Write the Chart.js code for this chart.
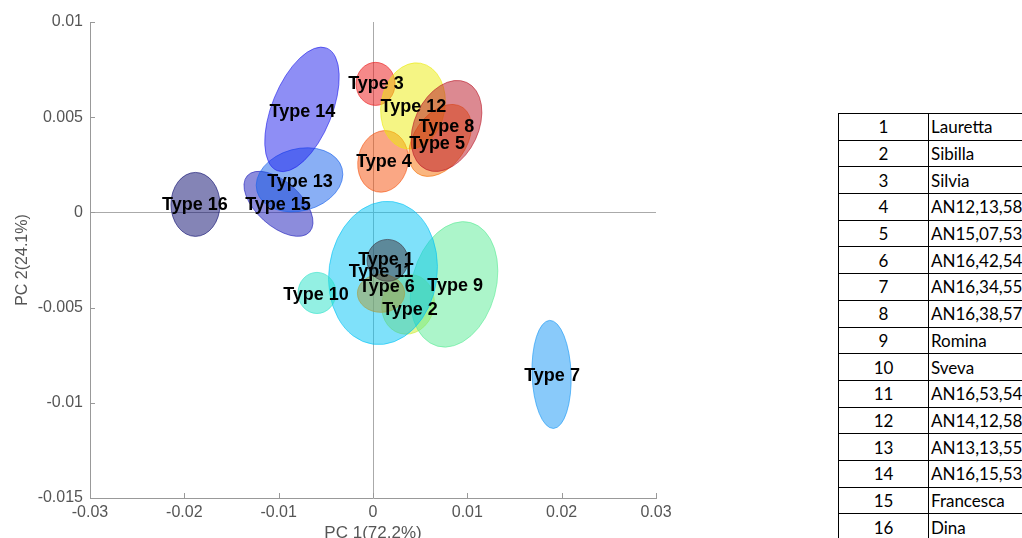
<!DOCTYPE html>
<html>
<head>
<meta charset="utf-8">
<script src="https://cdn.jsdelivr.net/npm/chart.js@4.4.1/dist/chart.umd.min.js"></script>
<style>
    html, body { margin: 0; padding: 0; background: #fff; overflow: hidden; width: 1022px; height: 538px; }
    #wrap { position: absolute; left: 0; top: 0; width: 700px; height: 560px; }
    #tbl { position: absolute; left: 838px; top: 113px; width: 360px; border-collapse: collapse; table-layout: fixed;
           font-family: Lato, 'Open Sans', sans-serif; font-size: 17px; color: #000; }
    #tbl td { border: 1px solid #000; height: 25.7px; padding: 0; line-height: 1; white-space: nowrap; overflow: hidden; }
    #tbl td.n { width: 89px; text-align: center; }
    #tbl td.nm { width: 268px; padding-left: 2px; }
</style>
</head>
<body>
<div id="wrap"><canvas id="pca" width="700" height="560"></canvas></div>
<table id="tbl"><tbody id="tbody"></tbody></table>
<script>
// group names
const types = ['Type 1', 'Type 2', 'Type 3', 'Type 4', 'Type 5', 'Type 6', 'Type 7', 'Type 8',
    'Type 9', 'Type 10', 'Type 11', 'Type 12', 'Type 13', 'Type 14', 'Type 15', 'Type 16'];

// label position (group mean) in PC1 / PC2
const labelX = [0.00138, 0.00392, 0.00032, 0.00117, 0.00679, 0.00148, 0.01898, 0.00779,
    0.00870, -0.00604, 0.00085, 0.00429, -0.00774, -0.00748, -0.01007, -0.01888];
const labelY = [-0.00252, -0.00515, 0.00672, 0.00263, 0.00357, -0.00394, -0.00861, 0.00446,
    -0.00389, -0.00436, -0.00315, 0.00551, 0.00158, 0.00525, 0.00037, 0.00037];

// confidence ellipses: centre, semi axes (PC1 / PC2 units) and tilt in degrees
const ellCx = [0.00154, 0.00371, 0.00027, 0.00106, 0.00711, 0.00085, 0.01893, 0.00779,
    0.00859, -0.00594, 0.00106, 0.00424, -0.00779, -0.00753, -0.01002, -0.01882];
const ellCy = [-0.00252, -0.00483, 0.00675, 0.00268, 0.00378, -0.00425, -0.00851, 0.00454,
    -0.00378, -0.00423, -0.00318, 0.00559, 0.00171, 0.00541, 0.00045, 0.00042];
const ellSx = [0.00217, 0.00276, 0.00207, 0.00265, 0.00276, 0.00250, 0.00207, 0.00339,
    0.00445, 0.00201, 0.00573, 0.00339, 0.00467, 0.00318, 0.00445, 0.00260];
const ellSy = [0.00110, 0.00158, 0.00113, 0.00163, 0.00210, 0.00100, 0.00284, 0.00252,
    0.00336, 0.00108, 0.00378, 0.00228, 0.00163, 0.00347, 0.00116, 0.00168];
const ellAngle = [0, 15, 0, 12, 35, 0, -2, 25, 15, 0, 8, 10, -15, 22, 42, 0];

const colors = ['60,50,60', '200,235,40', '235,20,20', '245,80,10', '245,110,0', '170,155,60',
    '20,150,245', '185,20,35', '90,235,150', '40,225,200', '0,195,245', '235,235,10',
    '20,95,235', '30,30,235', '25,25,185', '10,10,110'];
const drawOrder = [2, 9, 11, 6, 1, 10, 7, 16, 15, 13, 14, 4, 3, 12, 5, 8];

// table on the right
const tableIds = [1, 2, 3, 4, 5, 6, 7, 8, 9, 10, 11, 12, 13, 14, 15, 16];
const tableNames = ['Lauretta', 'Sibilla', 'Silvia', 'AN12,13,58', 'AN15,07,53', 'AN16,42,54',
    'AN16,34,55', 'AN16,38,57', 'Romina', 'Sveva', 'AN16,53,54', 'AN14,12,58', 'AN13,13,55',
    'AN16,15,53', 'Francesca', 'Dina'];

const tbody = document.getElementById('tbody');
tableIds.forEach((id, i) => {
    const tr = document.createElement('tr');
    tr.innerHTML = '<td class="n">' + id + '</td><td class="nm">' + tableNames[i] + '</td>';
    tbody.appendChild(tr);
});

function fmt(v) {
    if (Math.abs(v) < 1e-9) return '0';
    return String(parseFloat(v.toFixed(4)));
}

const axisGray = '#999999';
const textGray = '#555555';

const pcaPlugin = {
    id: 'pca',
    beforeDatasetsDraw(chart) {
        const ctx = chart.ctx;
        const xs = chart.scales.x, ys = chart.scales.y;
        const area = chart.chartArea;
        ctx.save();
        // inward tick marks
        ctx.strokeStyle = axisGray;
        ctx.lineWidth = 1;
        xs.ticks.forEach(t => {
            const px = Math.round(xs.getPixelForValue(t.value)) + 0.5;
            ctx.beginPath(); ctx.moveTo(px, area.bottom); ctx.lineTo(px, area.bottom - 5); ctx.stroke();
        });
        ys.ticks.forEach(t => {
            const py = Math.round(ys.getPixelForValue(t.value)) + 0.5;
            ctx.beginPath(); ctx.moveTo(area.left, py); ctx.lineTo(area.left + 5, py); ctx.stroke();
        });
        // ellipses
        drawOrder.forEach(n => {
            const i = n - 1;
            const cx = xs.getPixelForValue(ellCx[i]);
            const cy = ys.getPixelForValue(ellCy[i]);
            const rx = Math.abs(xs.getPixelForValue(ellCx[i] + ellSx[i]) - cx);
            const ry = Math.abs(ys.getPixelForValue(ellCy[i] + ellSy[i]) - cy);
            ctx.beginPath();
            ctx.ellipse(cx, cy, rx, ry, ellAngle[i] * Math.PI / 180, 0, Math.PI * 2);
            ctx.fillStyle = 'rgba(' + colors[i] + ',0.5)';
            ctx.fill();
            ctx.strokeStyle = 'rgba(' + colors[i] + ',0.6)';
            ctx.lineWidth = 1;
            ctx.stroke();
        });
        ctx.restore();
    },
    afterDatasetsDraw(chart) {
        const ctx = chart.ctx;
        const meta = chart.getDatasetMeta(0);
        ctx.save();
        ctx.font = 'bold 18px "Liberation Sans", Arial, sans-serif';
        ctx.fillStyle = '#000';
        ctx.textAlign = 'center';
        ctx.textBaseline = 'middle';
        meta.data.forEach((pt, i) => {
            ctx.fillText(types[i], pt.x, pt.y);
        });
        ctx.restore();
    }
};

new Chart(document.getElementById('pca'), {
    type: 'scatter',
    data: {
        datasets: [{
            data: types.map((t, i) => ({ x: labelX[i], y: labelY[i] })),
            pointRadius: 0,
            pointHoverRadius: 0
        }]
    },
    options: {
        responsive: false,
        animation: false,
        events: [],
        layout: { padding: { left: 0, right: 44, top: 22, bottom: 0 } },
        plugins: { legend: { display: false }, tooltip: { enabled: false } },
        scales: {
            x: {
                type: 'linear', position: 'bottom', min: -0.03, max: 0.03,
                ticks: {
                    stepSize: 0.01, color: textGray, padding: 5, maxRotation: 0, autoSkip: false,
                    font: { family: 'Liberation Sans', size: 16 }, callback: fmt
                },
                grid: {
                    drawTicks: false, lineWidth: 1,
                    color: c => (c.tick && Math.abs(c.tick.value) < 1e-9) ? '#aaaaaa' : 'rgba(0,0,0,0)'
                },
                border: { color: axisGray },
                title: {
                    display: true, text: 'PC 1(72.2%)', color: textGray,
                    font: { family: 'Liberation Sans', size: 17 }, padding: { top: 0, bottom: 16 }
                },
                afterFit: s => { s.height = 62; }
            },
            y: {
                type: 'linear', position: 'left', min: -0.015, max: 0.01,
                ticks: {
                    stepSize: 0.005, color: textGray, padding: 7,
                    font: { family: 'Liberation Sans', size: 16 }, callback: fmt
                },
                grid: {
                    drawTicks: false, lineWidth: 1,
                    color: c => (c.tick && Math.abs(c.tick.value) < 1e-9) ? '#aaaaaa' : 'rgba(0,0,0,0)'
                },
                border: { color: axisGray },
                title: {
                    display: true, text: 'PC 2(24.1%)', color: textGray,
                    font: { family: 'Liberation Sans', size: 16 }, padding: { top: 13, bottom: 0 }
                },
                afterFit: s => { s.width = 90; }
            }
        }
    },
    plugins: [pcaPlugin]
});
</script>
</body>
</html>
